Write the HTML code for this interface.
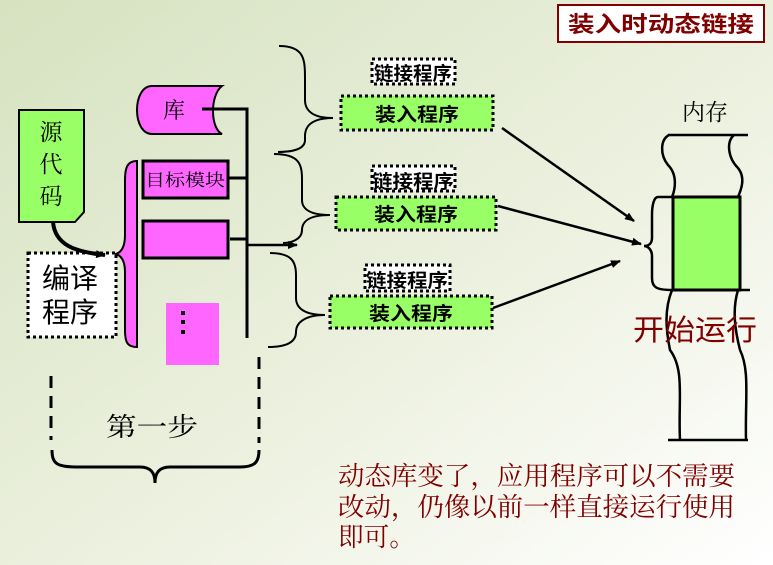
<!DOCTYPE html>
<html><head><meta charset="utf-8"><style>
html,body{margin:0;padding:0;width:773px;height:565px;overflow:hidden}
svg{display:block}
text{font-family:"Liberation Serif","Noto Serif CJK SC",serif}
.s{font-family:"Liberation Sans","Noto Sans CJK SC",sans-serif}
</style></head><body>
<svg width="773" height="565" viewBox="0 0 773 565" xmlns="http://www.w3.org/2000/svg">
<defs>
<linearGradient id="bg" x1="0" y1="0" x2="1" y2="1">
<stop offset="0" stop-color="#d6e2c0"/><stop offset="0.6" stop-color="#eef2e2"/><stop offset="1" stop-color="#ffffff"/>
</linearGradient>
<marker id="ah" markerWidth="10" markerHeight="8" refX="9" refY="4" orient="auto" markerUnits="userSpaceOnUse"><path d="M0,0 L10,4 L0,8 Z" fill="#000"/></marker>
</defs>
<rect width="773" height="565" fill="url(#bg)"/>
<rect x="558" y="5" width="206" height="37" fill="#fff" stroke="#800000" stroke-width="2"/>
<text x="661" y="32" font-size="22" fill="#800000" text-anchor="middle" class="s" font-weight="bold" textLength="186" lengthAdjust="spacingAndGlyphs">装入时动态链接</text>
<path d="M19,110 H84 V212 L75,222 H19 Z" fill="#99ff66" stroke="#000" stroke-width="2"/>
<text x="51" y="140" font-size="23" text-anchor="middle">源</text>
<text x="51" y="172" font-size="23" text-anchor="middle">代</text>
<text x="51" y="204" font-size="23" text-anchor="middle">码</text>
<rect x="28" y="253" width="88" height="84" fill="#fff" stroke="#000" stroke-width="3" stroke-dasharray="3,3"/>
<text x="70" y="288" font-size="28" text-anchor="middle" class="s">编译</text>
<text x="70" y="322" font-size="28" text-anchor="middle" class="s">程序</text>
<path d="M53,222 C55,245 75,252 105,255" fill="none" stroke="#000" stroke-width="4" marker-end="url(#ah)"/>
<path d="M137,161 C127,161 125,168 125,180 V235 C125,245 122,252 116,254 C122,256 125,262 125,272 V330 C125,342 127,347 137,347 Z" fill="#ff66ff" stroke="#000" stroke-width="2"/>
<path d="M152,86 H222 C210,95 210,128 222,134 H152 C132,134 132,86 152,86 Z" fill="#ff66ff" stroke="#000" stroke-width="2"/>
<text x="174" y="118" font-size="22" text-anchor="middle">库</text>
<rect x="143" y="161" width="85" height="37" fill="#ff66ff" stroke="#000" stroke-width="3"/>
<text x="185" y="186" font-size="17" text-anchor="middle" textLength="80" lengthAdjust="spacingAndGlyphs">目标模块</text>
<rect x="143" y="221" width="85" height="37" fill="#ff66ff" stroke="#000" stroke-width="3"/>
<rect x="166" y="303" width="53" height="62" fill="#ff66ff"/>
<rect x="181" y="311" width="4" height="4" fill="#000"/><rect x="181" y="320" width="4" height="4" fill="#000"/><rect x="181" y="330" width="4" height="4" fill="#000"/>
<g stroke="#000" stroke-width="3" fill="none">
<path d="M202,109 H247 V338"/>
<path d="M228,178 H247"/>
<path d="M230,239 H247"/>
</g>
<path d="M247,245 H297" stroke="#000" stroke-width="2.5" marker-end="url(#ah)"/>
<g stroke="#000" stroke-width="2" fill="none">
<path d="M279,46 C305,46 305,60 305,80 V100 C305,112 315,118 333,118 C315,118 305,124 305,136 V140 C305,150 290,152 278,152"/>
<path d="M274,154 C300,154 302,165 302,180 V200 C302,210 312,215 330,215 C312,215 302,220 302,230 C302,240 290,243 283,243"/>
<path d="M270,253 C292,253 296,262 296,275 V298 C296,309 306,315 325,315 C306,315 296,322 296,332 C296,343 285,347 268,347"/>
</g>
<g stroke="#000" stroke-width="3" stroke-dasharray="3,3">
<rect x="372" y="59" width="83" height="25" fill="#fff"/>
<rect x="341" y="96" width="152" height="34" fill="#99ff66"/>
<rect x="372" y="166" width="83" height="25" fill="#fff"/>
<rect x="336" y="197" width="160" height="33" fill="#99ff66"/>
<rect x="365" y="265" width="85" height="26" fill="#fff"/>
<rect x="330" y="296" width="162" height="32" fill="#99ff66"/>
</g>
<g font-size="19" font-weight="bold" text-anchor="middle">
<text x="413" y="80" class="s" textLength="78" lengthAdjust="spacingAndGlyphs">链接程序</text>
<text x="417" y="121" class="s" textLength="84" lengthAdjust="spacingAndGlyphs">装入程序</text>
<text x="413" y="188" class="s" textLength="82" lengthAdjust="spacingAndGlyphs">链接程序</text>
<text x="416" y="221" class="s" textLength="84" lengthAdjust="spacingAndGlyphs">装入程序</text>
<text x="407" y="287" class="s" textLength="82" lengthAdjust="spacingAndGlyphs">链接程序</text>
<text x="411" y="320" class="s" textLength="84" lengthAdjust="spacingAndGlyphs">装入程序</text>
</g>
<g stroke="#000" stroke-width="2.5" marker-end="url(#ah)">
<line x1="502" y1="128" x2="634" y2="221"/>
<line x1="498" y1="206" x2="641" y2="244"/>
<line x1="493" y1="308" x2="620" y2="261"/>
</g>
<text x="705" y="120" font-size="23" text-anchor="middle">内存</text>
<g stroke="#000" stroke-width="2.5" fill="none">
<path d="M669,135 C660,140 660,155 668,165 C678,175 675,190 672,197"/>
<path d="M668,135 H748 M734,135 C726,142 728,158 738,168 C746,178 741,190 738,197"/>
<path d="M672,290 C664,310 666,330 670,350 C685,370 678,400 680,440 M668,440 H748 M738,290 C732,310 735,330 740,350 C750,370 745,400 746,440 M740,290 H750"/>
<path d="M672,197 H658 C654,197 652,205 652,215 V238 C652,244 648,246 644,246 C648,246 652,250 652,256 V278 C652,287 656,290 672,290"/>
</g>
<rect x="673" y="197" width="67" height="93" fill="#99ff66" stroke="#000" stroke-width="3"/>
<text x="695" y="340" font-size="29" fill="#800000" text-anchor="middle" class="s" textLength="124" lengthAdjust="spacingAndGlyphs">开始运行</text>
<g stroke="#000" stroke-width="3" stroke-dasharray="12,8" fill="none">
<line x1="51" y1="376" x2="51" y2="440"/>
<line x1="259" y1="357" x2="259" y2="443"/>
</g>
<path d="M52,450 C52,465 58,467 80,467 H140 C150,467 155,472 155,483 C155,472 160,467 170,467 H240 C255,467 259,462 259,450" fill="none" stroke="#000" stroke-width="3"/>
<text x="152" y="436" font-size="26" text-anchor="middle" textLength="92" lengthAdjust="spacingAndGlyphs">第一步</text>
<g font-size="26" fill="#800000">
<text x="338" y="485" textLength="397" lengthAdjust="spacingAndGlyphs">动态库变了，应用程序可以不需要</text>
<text x="338" y="516" textLength="397" lengthAdjust="spacingAndGlyphs">改动，仍像以前一样直接运行使用</text>
<text x="338" y="546" textLength="77" lengthAdjust="spacingAndGlyphs">即可。</text>
</g>
</svg>
</body></html>
